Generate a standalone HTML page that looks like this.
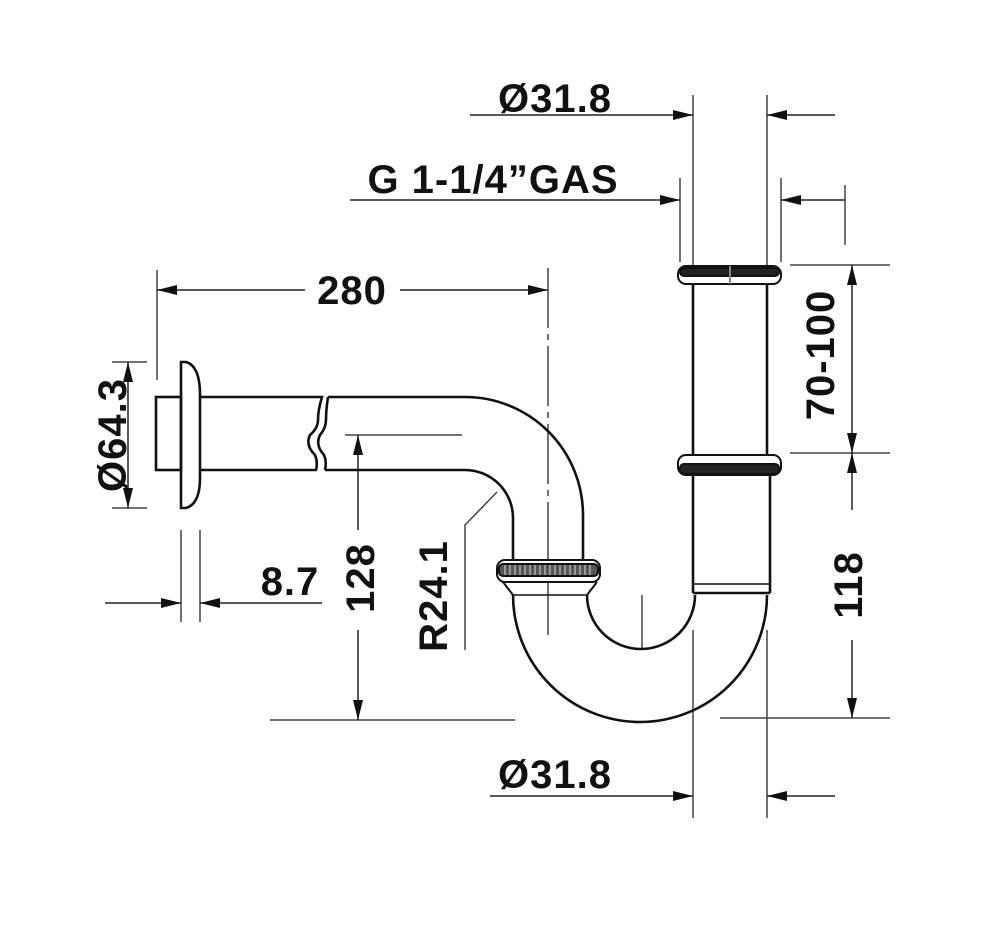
<!DOCTYPE html>
<html><head><meta charset="utf-8"><style>
html,body{margin:0;padding:0;background:#fff;}
svg{display:block;}
text{font-family:"Liberation Sans",Arial,sans-serif;font-weight:bold;font-size:40px;fill:#111;letter-spacing:1px;}
</style></head><body>
<svg width="1000" height="943" viewBox="0 0 1000 943" xmlns="http://www.w3.org/2000/svg">
<defs>
<marker id="a" viewBox="0 0 20 10" refX="20" refY="5" markerWidth="20" markerHeight="10" markerUnits="userSpaceOnUse" orient="auto"><path d="M0,0 L20,5 L0,10 z" fill="#111"/></marker>
</defs>
<g stroke="#444" stroke-width="1.5" fill="none">
<line x1="693" y1="95" x2="693" y2="265"/>
<line x1="767" y1="95" x2="767" y2="265"/>
<line x1="680" y1="178" x2="680" y2="262"/>
<line x1="781" y1="178" x2="781" y2="262"/>
<line x1="693" y1="630" x2="693" y2="818"/>
<line x1="767" y1="630" x2="767" y2="818"/>
<line x1="790" y1="265" x2="890" y2="265"/>
<line x1="790" y1="453" x2="890" y2="453"/>
<line x1="720" y1="718" x2="890" y2="718"/>
<line x1="157" y1="270" x2="157" y2="380"/>
<line x1="548" y1="268" x2="548" y2="635" stroke-dasharray="60,6,6,6"/>
<line x1="112" y1="362" x2="147" y2="362"/>
<line x1="112" y1="508" x2="147" y2="508"/>
<line x1="181" y1="530" x2="181" y2="622"/>
<line x1="200" y1="530" x2="200" y2="622"/>
<line x1="345" y1="435" x2="462" y2="435"/>
<line x1="270" y1="720" x2="515" y2="720"/>
<line x1="642" y1="595" x2="642" y2="648"/>
<polyline points="497,492 465,525 465,650"/>
<line x1="845" y1="185" x2="845" y2="245"/>
</g>
<g stroke="#222" stroke-width="1.5" fill="none">
<line x1="470" y1="115" x2="693" y2="115" marker-end="url(#a)"/>
<line x1="835" y1="115" x2="767" y2="115" marker-end="url(#a)"/>
<line x1="350" y1="200" x2="680" y2="200" marker-end="url(#a)"/>
<line x1="845" y1="200" x2="781" y2="200" marker-end="url(#a)"/>
<line x1="490" y1="796" x2="693" y2="796" marker-end="url(#a)"/>
<line x1="835" y1="796" x2="767" y2="796" marker-end="url(#a)"/>
<line x1="305" y1="290" x2="157" y2="290" marker-end="url(#a)"/>
<line x1="400" y1="290" x2="548" y2="290" marker-end="url(#a)"/>
<line x1="128" y1="435" x2="128" y2="362" marker-end="url(#a)"/>
<line x1="128" y1="435" x2="128" y2="508" marker-end="url(#a)"/>
<line x1="105" y1="603" x2="181" y2="603" marker-end="url(#a)"/>
<line x1="322" y1="603" x2="200" y2="603" marker-end="url(#a)"/>
<line x1="358" y1="530" x2="358" y2="435" marker-end="url(#a)"/>
<line x1="358" y1="630" x2="358" y2="720" marker-end="url(#a)"/>
<line x1="852" y1="360" x2="852" y2="265" marker-end="url(#a)"/>
<line x1="852" y1="360" x2="852" y2="453" marker-end="url(#a)"/>
<line x1="852" y1="510" x2="852" y2="453" marker-end="url(#a)"/>
<line x1="852" y1="640" x2="852" y2="718" marker-end="url(#a)"/>
</g>
<g stroke="#111" stroke-width="2.6" fill="none">
<path d="M181,362 L186,362 Q200,366 200,395 L200,478 Q200,504 186,508 L181,508 Z"/>
<rect x="156" y="397" width="25" height="73"/>
<path d="M200,397 L322,397 Q318,410 318,420 Q318,428 310,435 Q305,445 315,455 Q318,462 316,470 L200,470"/>
<path d="M328,397 Q326,410 326,420 Q326,428 320,435 Q315,445 324,455 Q327,462 325,470"/>
<path d="M328,397 L465,397 A118,118 0 0 1 583,515 L583,560"/>
<path d="M325,470 L465,470 A48,48 0 0 1 513,518 L513,560"/>
<path d="M513,595 A127,127 0 0 0 767,595"/>
<path d="M587,595 A54,54 0 0 0 695,595"/>
<path d="M503,582 L513,595 M597,582 L587,595" stroke-width="2"/>
<line x1="513" y1="595" x2="587" y2="595" stroke-width="1.5"/>
<line x1="693" y1="285" x2="693" y2="455"/>
<line x1="767" y1="285" x2="767" y2="455"/>
<line x1="693" y1="475" x2="693" y2="593"/>
<line x1="770" y1="475" x2="770" y2="593"/>
<line x1="693" y1="584" x2="770" y2="584" stroke-width="1.5"/>
<line x1="693" y1="593" x2="770" y2="593"/>
</g>
<g stroke="#111" stroke-width="2">
<rect x="678" y="266" width="103" height="18" rx="8" fill="#fff"/>
<rect x="680" y="268" width="99" height="8" rx="4" fill="#222"/>
<line x1="730" y1="266" x2="730" y2="284" stroke="#888"/>
<rect x="678" y="455" width="103" height="20" rx="8" fill="#fff"/>
<rect x="680" y="464" width="99" height="10" rx="4" fill="#222"/>
<rect x="497" y="560" width="103" height="22" rx="8" fill="#fff"/>
<rect x="499" y="564" width="99" height="12" rx="4" fill="#555"/>
</g>
<g stroke="#ddd" stroke-width="1">
<path d="M505,565v10M510,565v10M515,565v10M520,565v10M525,565v10M530,565v10M535,565v10M540,565v10M545,565v10M550,565v10M555,565v10M560,565v10M565,565v10M570,565v10M575,565v10M580,565v10M585,565v10M590,565v10"/>
</g>
<text x="555" y="112" text-anchor="middle">Ø31.8</text>
<text x="493" y="193" text-anchor="middle">G 1-1/4”GAS</text>
<text x="352" y="304" text-anchor="middle">280</text>
<text x="290" y="595" text-anchor="middle">8.7</text>
<text x="555" y="788" text-anchor="middle">Ø31.8</text>
<text transform="translate(126,435) rotate(-90)" text-anchor="middle">Ø64.3</text>
<text transform="translate(374,578) rotate(-90)" text-anchor="middle">128</text>
<text transform="translate(447,596) rotate(-90)" text-anchor="middle">R24.1</text>
<text transform="translate(834,355) rotate(-90)" text-anchor="middle">70-100</text>
<text transform="translate(862,585) rotate(-90)" text-anchor="middle">118</text>
</svg>
</body></html>
